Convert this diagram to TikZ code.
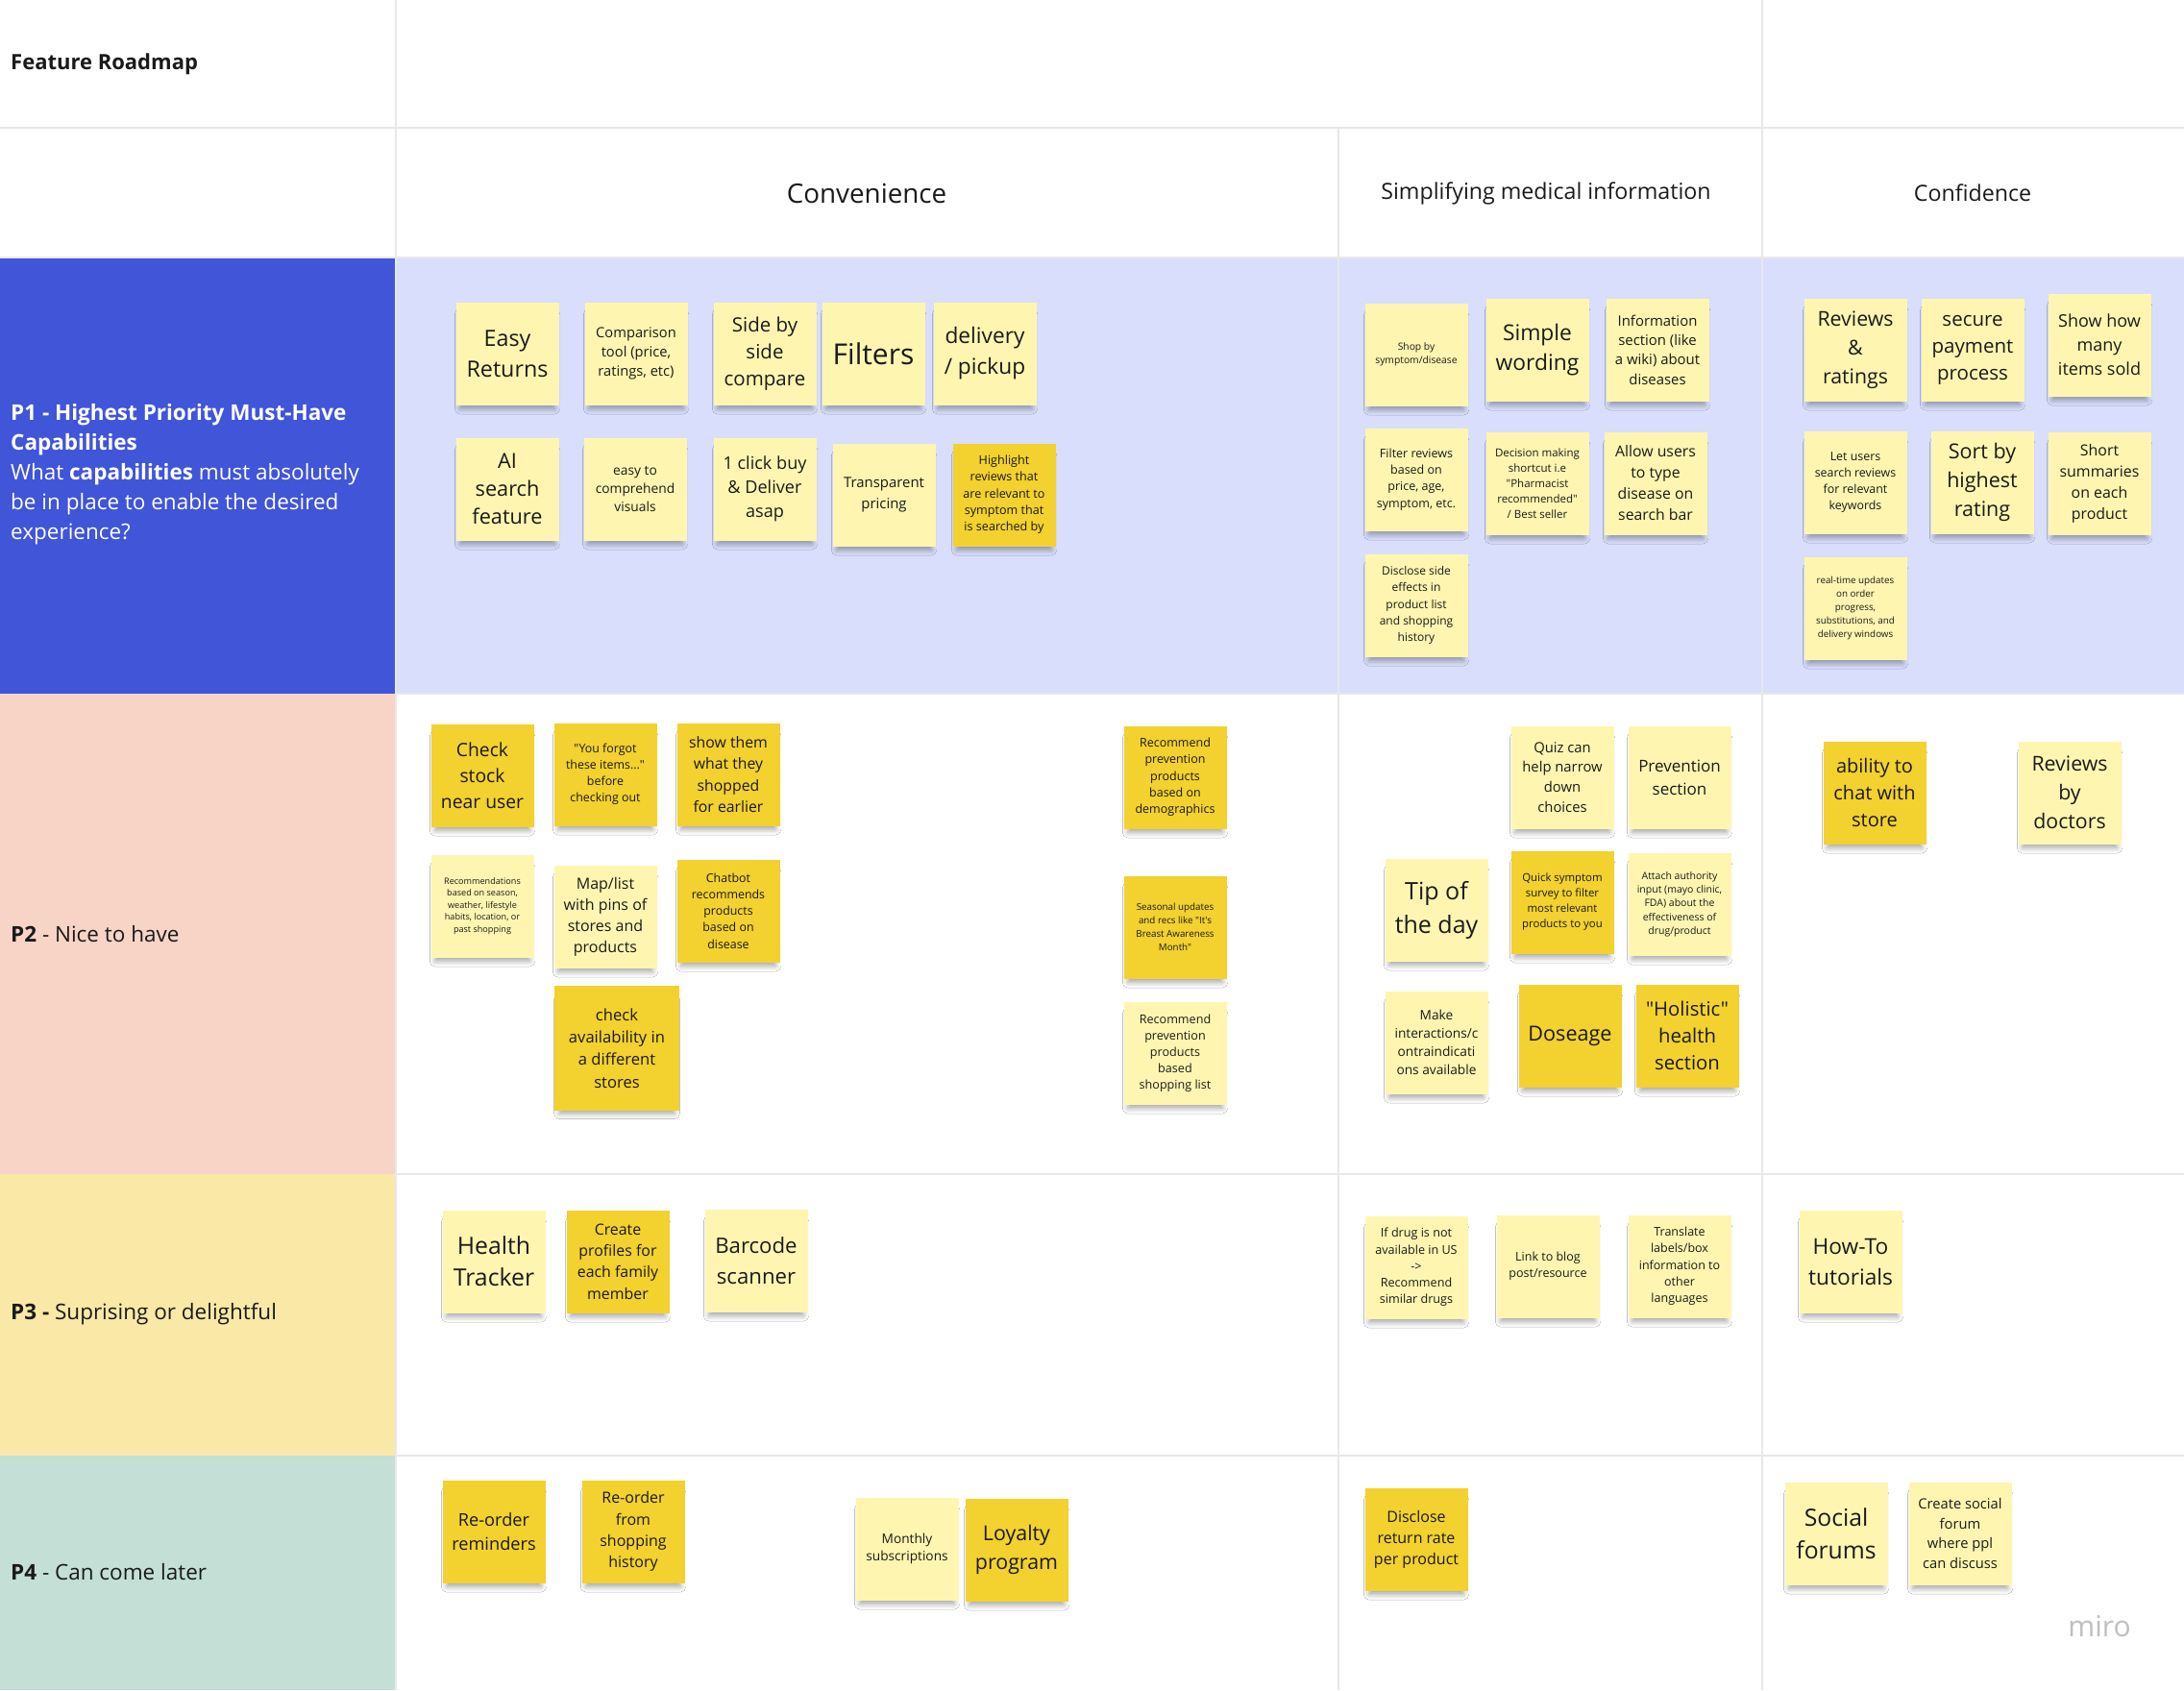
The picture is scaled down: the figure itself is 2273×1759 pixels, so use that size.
\documentclass[tikz,border=0pt]{standalone}
\usepackage{fontspec}
\setmainfont{Open Sans}[Ligatures=TeXOff]
\usepackage{xcolor}
\usetikzlibrary{positioning,shadows.blur}

\definecolor{gridline}{RGB}{232,232,234}
\definecolor{pone}{RGB}{64,85,216}
\definecolor{ponebg}{RGB}{216,222,251}
\definecolor{ptwo}{RGB}{248,212,198}
\definecolor{pthree}{RGB}{250,232,166}
\definecolor{pfour}{RGB}{195,223,214}
\definecolor{palenote}{RGB}{254,246,176}
\definecolor{goldnote}{RGB}{243,209,46}
\definecolor{inktext}{RGB}{26,26,26}
\newcommand{\fsz}[2]{\fontsize{#1}{#2}\selectfont}

\begin{document}
\begin{tikzpicture}[x=1pt, y=-1pt,
    note/.style={rectangle, minimum width=107, minimum height=107, inner sep=2pt, align=center, text=inktext,
      blur shadow={shadow xshift=0pt, shadow yshift=-9pt, shadow scale=0.92, shadow blur radius=6pt, shadow opacity=35}},
    pale/.style={note, fill=palenote},
    gold/.style={note, fill=goldnote},
    rowlabel/.style={anchor=west, align=left, inner sep=0pt, font=\fsz{22.5}{31}, text=inktext},
    head/.style={font=\fsz{23.2}{30}, text=inktext},
    grid/.style={draw=gridline, line width=2pt}
    ]
    \useasboundingbox (0,0) rectangle (2273,1759);
    % board
    \fill[white] (0,0) rectangle (2273,1759);
    \fill[pone] (0,268) rectangle (412,722);
    \fill[ponebg] (412,268) rectangle (2273,722);
    \fill[ptwo] (0,722) rectangle (412,1222);
    \fill[pthree] (0,1222) rectangle (412,1515);
    \fill[pfour] (0,1515) rectangle (412,1759);
    \draw[grid] (0,133) -- (2273,133);
    \draw[grid] (0,268) -- (2273,268);
    \draw[grid] (412,722) -- (2273,722);
    \draw[grid] (412,1222) -- (2273,1222);
    \draw[grid] (412,1515) -- (2273,1515);
    \draw[grid] (412,0) -- (412,1759);
    \draw[grid] (1393,133) -- (1393,1759);
    \draw[grid] (1834,0) -- (1834,1759);

    % headers
    \node[anchor=west, inner sep=0pt, font=\fsz{22}{28}\bfseries, text=inktext] (title) at (11,67) {Feature Roadmap};
    \node[head, font=\fsz{27.8}{32}] (conv) at (902,201) {Convenience};
    \node[head] (simp) at (1609,201) {Simplifying medical information};
    \node[head] (conf) at (2053,201) {Confidence};

    \node[rowlabel, text=white] (pone) at (11,494) {\textbf{P1 - Highest Priority Must-Have}\\ \textbf{Capabilities}\\ What \textbf{capabilities} must absolutely\\ be in place to enable the desired\\ experience?};
    \node[rowlabel] (ptwo) at (11,972) {\textbf{P2} - Nice to have};
    \node[rowlabel] (pthree) at (11,1368) {\textbf{P3 -} Suprising or delightful};
    \node[rowlabel] (pfour) at (11,1636) {\textbf{P4} - Can come later};

    % P1
    \node[pale, font=\fsz{23.3}{32}] (easyret) at (528,368) {Easy\\Returns};
    \node[pale, font=\fsz{14.7}{20}] (comparetool) at (662,368) {Comparison\\tool (price,\\ratings, etc)};
    \node[pale, font=\fsz{20.5}{28}] (sidebyside) at (796,368) {Side by\\side\\compare};
    \node[pale, font=\fsz{30}{36}] (filters) at (909,368) {Filters};
    \node[pale, font=\fsz{22.7}{32}] (delivery) at (1025,368) {delivery\\/ pickup};
    \node[pale, font=\fsz{21.7}{29}] (aisearch) at (528,509) {AI\\search\\feature};
    \node[pale, font=\fsz{13.8}{18.7}] (visuals) at (661,509) {easy to\\comprehend\\visuals};
    \node[pale, font=\fsz{18.1}{25}] (oneclick) at (796,509) {1 click buy\\\& Deliver\\asap};
    \node[pale, font=\fsz{14.9}{21.7}] (pricing) at (920,515) {Transparent\\pricing};
    \node[gold, font=\fsz{12.6}{17.3}] (highlight) at (1045,515) {Highlight\\reviews that\\are relevant to\\symptom that\\is searched by};

    \node[pale, font=\fsz{10.3}{14}] (shopby) at (1474,369) {Shop by\\symptom/disease};
    \node[pale, font=\fsz{22.8}{31}] (simple) at (1600,364) {Simple\\wording};
    \node[pale, font=\fsz{14.9}{20.3}] (infosec) at (1725,364) {Information\\section (like\\a wiki) about\\diseases};
    \node[pale, font=\fsz{12.5}{17.4}] (filterrev) at (1474,499) {Filter reviews\\based on\\price, age,\\symptom, etc.};
    \node[pale, font=\fsz{11.5}{16}] (decision) at (1600,503) {Decision making\\shortcut i.e\\"Pharmacist\\recommended"\\/ Best seller};
    \node[pale, font=\fsz{15.8}{22}] (typedis) at (1723,503) {Allow users\\to type\\disease on\\search bar};
    \node[pale, font=\fsz{12}{17.2}] (sidefx) at (1474,630) {Disclose side\\effects in\\product list\\and shopping\\history};

    \node[pale, font=\fsz{21.3}{30}] (reviews) at (1931,364) {Reviews\\\&\\ratings};
    \node[pale, font=\fsz{20.5}{28}] (payment) at (2053,364) {secure\\payment\\process};
    \node[pale, font=\fsz{18}{25}] (sold) at (2185,359) {Show how\\many\\items sold};
    \node[pale, font=\fsz{12.4}{17}] (keywords) at (1931,502) {Let users\\search reviews\\for relevant\\keywords};
    \node[pale, font=\fsz{21.5}{30}] (sortby) at (2063,502) {Sort by\\highest\\rating};
    \node[pale, font=\fsz{15.9}{22}] (summary) at (2185,503) {Short\\summaries\\on each\\product};
    \node[pale, font=\fsz{9.8}{14.2}] (realtime) at (1931,633) {real-time updates\\on order\\progress,\\substitutions, and\\delivery windows};

    % P2
    \node[gold, font=\fsz{19.3}{27}] (stock) at (502,807) {Check\\stock\\near user};
    \node[gold, font=\fsz{12.4}{17}] (forgot) at (630,806) {"You forgot\\these items..."\\before\\checking out};
    \node[gold, font=\fsz{15.8}{22.3}] (earlier) at (758,806) {show them\\what they\\shopped\\for earlier};
    \node[pale, font=\fsz{9.1}{12.6}] (season) at (502,943) {Recommendations\\based on season,\\weather, lifestyle\\habits, location, or\\past shopping};
    \node[pale, font=\fsz{16}{22}] (maplist) at (630,954) {Map/list\\with pins of\\stores and\\products};
    \node[gold, font=\fsz{12.4}{17.2}] (chatbot) at (758,948) {Chatbot\\recommends\\products\\based on\\disease};
    \node[gold, minimum width=130, minimum height=130, font=\fsz{16.6}{23.3}] (avail) at (642,1091) {check\\availability in\\a different\\stores};
    \node[gold, font=\fsz{12.5}{17.3}] (demog) at (1223,809) {Recommend\\prevention\\products\\based on\\demographics};
    \node[gold, font=\fsz{9.8}{14.2}] (seasonal) at (1223,965) {Seasonal updates\\and recs like "It's\\Breast Awareness\\Month"};
    \node[pale, font=\fsz{12.6}{17}] (shoplist) at (1223,1096) {Recommend\\prevention\\products\\based\\shopping list};

    \node[pale, font=\fsz{14.8}{20.8}] (quiz) at (1626,809) {Quiz can\\help narrow\\down\\choices};
    \node[pale, font=\fsz{17}{24}] (prevent) at (1748,809) {Prevention\\section};
    \node[pale, font=\fsz{25}{35}] (tip) at (1495,947) {Tip of\\the day};
    \node[gold, font=\fsz{11.4}{16}] (survey) at (1626,939) {Quick symptom\\survey to filter\\most relevant\\products to you};
    \node[pale, font=\fsz{10.5}{14.3}] (authority) at (1748,941) {Attach authority\\input (mayo clinic,\\FDA) about the\\effectiveness of\\drug/product};
    \node[pale, font=\fsz{13.7}{19}] (interact) at (1495,1085) {Make\\interactions/c\\ontraindicati\\ons available};
    \node[gold, font=\fsz{21.6}{28}] (dose) at (1634,1078) {Doseage};
    \node[gold, font=\fsz{20.3}{28}] (holistic) at (1756,1078) {"Holistic"\\health\\section};

    \node[gold, font=\fsz{20}{28}] (chatstore) at (1951,825) {ability to\\chat with\\store};
    \node[pale, font=\fsz{21.3}{30}] (docrev) at (2154,825) {Reviews\\by\\doctors};

    % P3
    \node[pale, font=\fsz{24.8}{33}] (tracker) at (514,1313) {Health\\Tracker};
    \node[gold, font=\fsz{15.9}{22.3}] (profiles) at (643,1313) {Create\\profiles for\\each family\\member};
    \node[pale, font=\fsz{22.2}{32}] (barcode) at (787,1312) {Barcode\\scanner};
    \node[pale, font=\fsz{12.6}{17.3}] (notus) at (1474,1319) {If drug is not\\available in US\\->\\Recommend\\similar drugs};
    \node[pale, font=\fsz{12.5}{17}] (blog) at (1611,1318) {Link to blog\\post/resource};
    \node[pale, font=\fsz{12.5}{17.3}] (translate) at (1748,1318) {Translate\\labels/box\\information to\\other\\languages};
    \node[pale, font=\fsz{22.7}{32}] (howto) at (1926,1313) {How-To\\tutorials};

    % P4
    \node[gold, font=\fsz{18.2}{25}] (reminder) at (514,1594) {Re-order\\reminders};
    \node[gold, font=\fsz{16}{22.3}] (history) at (659,1594) {Re-order\\from\\shopping\\history};
    \node[pale, font=\fsz{13.7}{18.7}] (monthly) at (944,1612) {Monthly\\subscriptions};
    \node[gold, font=\fsz{21.4}{30}] (loyalty) at (1058,1613) {Loyalty\\program};
    \node[gold, font=\fsz{16}{22}] (returnrate) at (1474,1602) {Disclose\\return rate\\per product};
    \node[pale, font=\fsz{24.7}{34}] (social) at (1911,1596) {Social\\forums};
    \node[pale, font=\fsz{14.7}{20.7}] (forum) at (2040,1596) {Create social\\forum\\where ppl\\can discuss};

    \node[text=black!25, font=\fsz{30}{32}] (miro) at (2185,1693) {miro};
  \end{tikzpicture}
\end{document}
